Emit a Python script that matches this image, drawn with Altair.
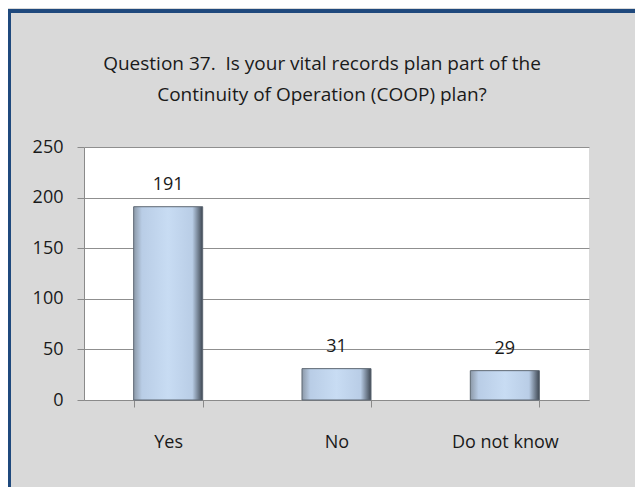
import altair as alt
import pandas as pd

categories = ["Yes", "No", "Do not know"]
counts = [191, 31, 29]
y_ticks = [0, 50, 100, 150, 200, 250]
title_lines = ["Question 37.\u00a0 Is your vital records plan part of the",
               "Continuity of Operation (COOP) plan?"]

df = pd.DataFrame({"answer": categories, "count": counts})
one = pd.DataFrame({"k": [0]})

FONT = "Liberation Sans Narrow, Open Sans, sans-serif"
W, H = 505, 253
PL, PT, PR, PB = 76, 139, 46, 87

bevel = alt.Gradient(
    gradient="linear",
    x1=0, x2=1, y1=0, y2=0,
    stops=[
        alt.GradientStop(color="#8c99a8", offset=0),
        alt.GradientStop(color="#b9cde6", offset=0.12),
        alt.GradientStop(color="#c8dcf3", offset=0.5),
        alt.GradientStop(color="#b9cde6", offset=0.85),
        alt.GradientStop(color="#3e4752", offset=1),
    ],
)

x_enc = alt.X(
    "answer:N",
    sort=categories,
    scale=alt.Scale(paddingInner=0.59, paddingOuter=0.295),
    axis=alt.Axis(
        title=None, labelAngle=0, labelFont=FONT, labelFontSize=18,
        labelColor="#1a1a1a", labelPadding=26, tickBand="extent",
        tickSize=7, tickColor="#8a8a8a", domainColor="#8a8a8a",
        grid=False,
    ),
)
y_enc = alt.Y(
    "count:Q",
    scale=alt.Scale(domain=[0, 250], nice=False, zero=True),
    axis=alt.Axis(
        title=None, values=y_ticks, labelFont=FONT, labelFontSize=18,
        labelColor="#1a1a1a", labelPadding=14, tickSize=7,
        tickColor="#8a8a8a", domainColor="#8a8a8a", gridColor="#8f8f8f",
        gridWidth=1,
    ),
)

bars = alt.Chart(df).mark_bar(
    color=bevel, stroke="#5d6773", strokeWidth=1
).encode(x=x_enc, y=y_enc)

labels = alt.Chart(df).mark_text(
    baseline="bottom", dy=-13, font=FONT, fontSize=18, color="#1a1a1a"
).encode(x=x_enc, y=y_enc, text="count:Q")

title1 = alt.Chart(one).mark_text(
    text=title_lines[0], font=FONT, fontSize=19, color="#1a1a1a",
    align="center", baseline="middle"
).encode(x=alt.value(238), y=alt.value(-83))
title2 = alt.Chart(one).mark_text(
    text=title_lines[1], font=FONT, fontSize=19, color="#1a1a1a",
    align="center", baseline="middle"
).encode(x=alt.value(238), y=alt.value(-52))

border_top = alt.Chart(one).mark_rule(color="#1f497d", strokeWidth=4).encode(
    x=alt.value(-PL), x2=alt.value(W + PR), y=alt.value(-PT + 3)
)
border_left = alt.Chart(one).mark_rule(color="#1f497d", strokeWidth=3).encode(
    x=alt.value(-PL + 1.5), y=alt.value(-PT + 1), y2=alt.value(H + PB)
)

chart = alt.layer(bars, labels, title1, title2, border_top, border_left).properties(
    width=W,
    height=H,
    autosize=alt.AutoSizeParams(type="none"),
    padding={"left": PL, "top": PT, "right": PR, "bottom": PB},
    background="#d9d9d9",
).configure_view(fill="white", strokeWidth=0)

chart.save("out.html", embed_options={"renderer": "svg", "actions": False})
